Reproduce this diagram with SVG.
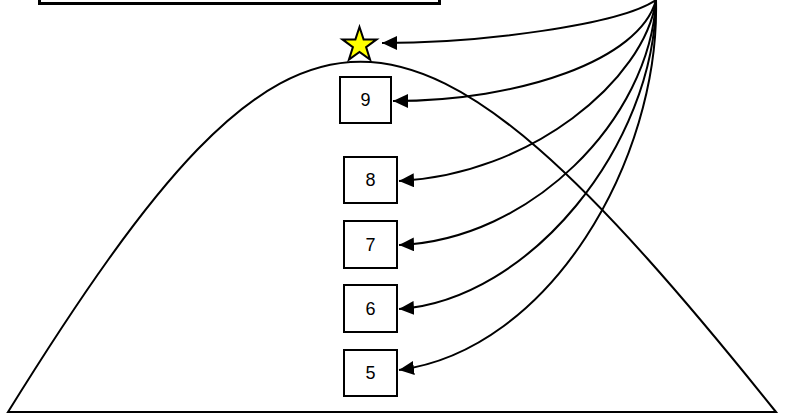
<svg xmlns="http://www.w3.org/2000/svg" width="789" height="418" viewBox="0 0 789 418">
<style>
.box{fill:#fff;stroke:#000;stroke-width:2}
.lbl{font-family:"Liberation Sans",Arial,sans-serif;font-size:18px;fill:#000;text-anchor:middle;dominant-baseline:central}
.conn{fill:none;stroke:#000;stroke-width:2;marker-end:url(#ah)}
</style>
<defs>
<marker id="ah" markerUnits="userSpaceOnUse" markerWidth="16" markerHeight="14" viewBox="0 0 16 14" refX="15" refY="7" orient="auto">
<path d="M0,0 L15,7 L0,14 Z" fill="#000"/>
</marker>
</defs>
<rect id="topbox" x="39.5" y="-40" width="400" height="43.5" fill="#fff" stroke="#000" stroke-width="3"/>
<g id="hill">
<path d="M8,412 C298,-55 402,-55 776,412 Z" fill="none" stroke="#000" stroke-width="2" stroke-linejoin="miter"/>
</g>
<g id="star">
<polygon points="359.5,27 363.6,39.4 376.6,39.4 366.1,47.1 370.1,59.6 359.5,51.9 348.9,59.6 352.9,47.1 342.4,39.4 355.4,39.4" fill="#ffff00" stroke="#000" stroke-width="2" stroke-linejoin="miter"/>
</g>
<g id="n9"><rect class="box" x="340" y="77" width="51" height="46"/><text class="lbl" x="365.5" y="100">9</text></g>
<g id="n8"><rect class="box" x="344" y="157" width="53" height="46"/><text class="lbl" x="370.5" y="180">8</text></g>
<g id="n7"><rect class="box" x="344" y="221" width="53" height="47"/><text class="lbl" x="370.5" y="244.5">7</text></g>
<g id="n6"><rect class="box" x="344" y="285" width="53" height="47"/><text class="lbl" x="370.5" y="308.5">6</text></g>
<g id="n5"><rect class="box" x="344" y="350" width="53" height="46"/><text class="lbl" x="370.5" y="373">5</text></g>
<g id="connectors">
<path class="conn" d="M656,0 C620,25 480,43 382,43"/>
<path class="conn" d="M656,0 C640,60 520,101 393,101"/>
<path class="conn" d="M656,0 C645,80 530,175 399,181"/>
<path class="conn" d="M656,0 C650,120 530,240 399,245"/>
<path class="conn" d="M656,0 C655,145 530,300 399,309"/>
<path class="conn" d="M656,0 C660,160 550,350 399,370"/>
</g>
</svg>
